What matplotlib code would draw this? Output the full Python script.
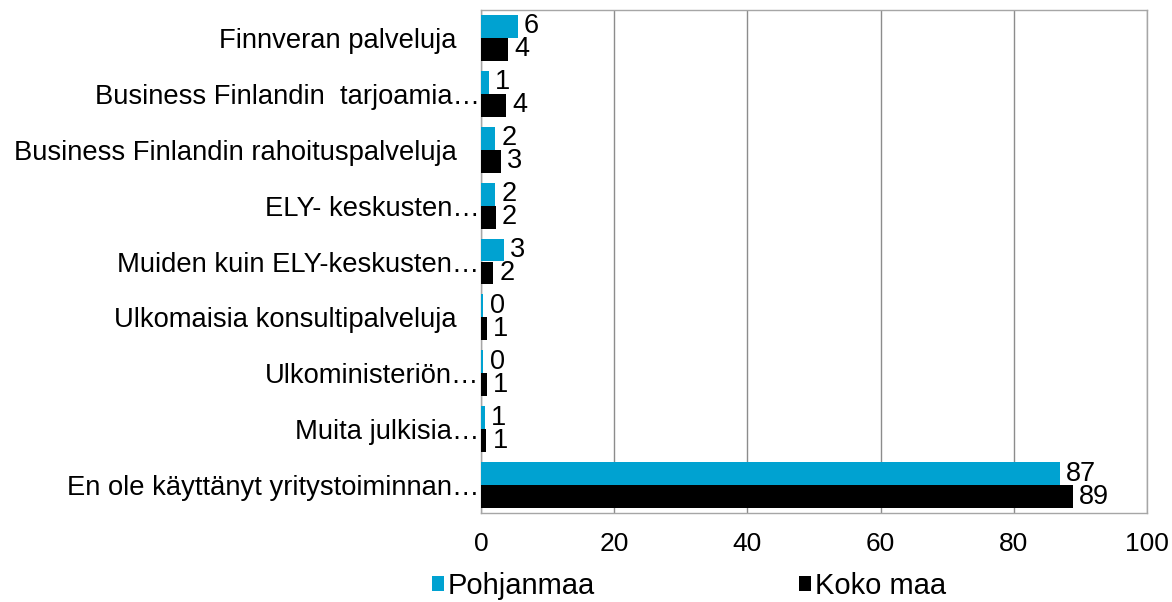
import matplotlib
matplotlib.use("Agg")
import matplotlib.pyplot as plt
import numpy as np
from matplotlib.patches import Patch

plt.rcParams['font.family'] = ['Liberation Sans', 'DejaVu Sans']

categories = [
    "Finnveran palveluja\u00a0\u00a0\u00a0",
    "Business Finlandin  tarjoamia…",
    "Business Finlandin rahoituspalveluja\u00a0\u00a0\u00a0",
    "ELY- keskusten…",
    "Muiden kuin ELY-keskusten…",
    "Ulkomaisia konsultipalveluja\u00a0\u00a0\u00a0",
    "Ulkoministeriön…",
    "Muita julkisia…",
    "En ole käyttänyt yritystoiminnan…",
]
pohjanmaa = [5.5, 1.2, 2.1, 2.1, 3.4, 0.35, 0.35, 0.6, 86.9]
koko_maa = [4.1, 3.8, 3.0, 2.2, 1.8, 0.9, 0.9, 0.8, 88.9]
pohjanmaa_labels = ["6", "1", "2", "2", "3", "0", "0", "1", "87"]
koko_maa_labels = ["4", "4", "3", "2", "2", "1", "1", "1", "89"]
series_names = ["Pohjanmaa", "Koko maa"]
xticks = [0, 20, 40, 60, 80, 100]

c_pohj = "#00A2D1"
c_koko = "#000000"

fig = plt.figure(figsize=(11.72, 6.02), dpi=100)
ax = fig.add_axes([481/1172, 1-513/602, (1147-481)/1172, (513-10)/602])

y = np.arange(len(categories))
h = 0.41
b1 = ax.barh(y - h/2, pohjanmaa, height=h, color=c_pohj, zorder=3)
b2 = ax.barh(y + h/2, koko_maa, height=h, color=c_koko, zorder=3)

for bars, labs in ((b1, pohjanmaa_labels), (b2, koko_maa_labels)):
    for bar, lab in zip(bars, labs):
        ax.annotate(lab, (bar.get_width(), bar.get_y() + bar.get_height()/2),
                    xytext=(4.5, 0), textcoords="offset points",
                    va="center", ha="left", fontsize=19.5, color="#000000")

ax.set_xlim(0, 100)
ax.set_ylim(len(categories) - 0.5, -0.5)
ax.set_xticks(xticks)
ax.set_xticklabels([str(t) for t in xticks], fontsize=19)
ax.set_yticks(y)
ax.set_yticklabels(categories, fontsize=19.7)
ax.tick_params(axis='y', length=0, pad=1)
ax.tick_params(axis='x', length=0, pad=14)
ax.grid(axis='x', color='#8C8C8C', linewidth=1, zorder=0)
for s in ax.spines.values():
    s.set_color('#A6A6A6')
    s.set_linewidth(1)

handles = [Patch(facecolor=c_pohj), Patch(facecolor=c_koko)]
fig.legend(handles, series_names, loc='lower left', bbox_to_anchor=(420/1172, -0.016),
           ncol=2, frameon=False, fontsize=21, handlelength=0.42, handleheight=0.45,
           handletextpad=0.13, columnspacing=7.0, borderaxespad=0)

fig.savefig("out.png", dpi=100)
